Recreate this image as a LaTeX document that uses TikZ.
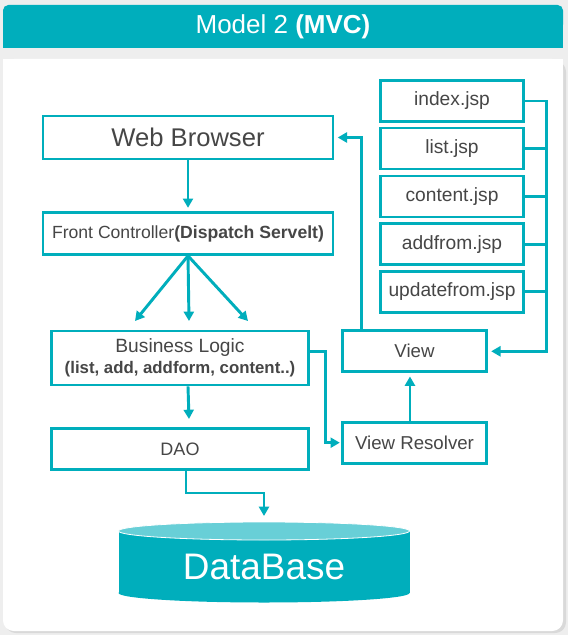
\documentclass[tikz,border=0pt]{standalone}
\usepackage{fontspec}
\setmainfont{Liberation Sans}
\usetikzlibrary{arrows.meta}
\definecolor{mvcteal}{RGB}{0,174,188}
\definecolor{mvclight}{RGB}{104,207,215}
\definecolor{mvctext}{RGB}{70,70,70}
\definecolor{mvcback}{RGB}{238,238,238}
\begin{document}
\begin{tikzpicture}[x=0.75pt,y=0.75pt,yscale=-1,xscale=1,
    box/.style={draw=mvcteal, line width=2pt, fill=white, text=mvctext, inner sep=0pt, align=center},
    widebox/.style={box, minimum width=217.5pt},
    logicbox/.style={box, minimum width=192.75pt},
    jspbox/.style={box, minimum width=107.25pt, minimum height=30.75pt, font=\fontsize{14.4}{17}\selectfont},
    viewbox/.style={box, minimum width=108pt, minimum height=30.75pt, font=\fontsize{14}{17}\selectfont},
    link/.style={draw=mvcteal, line width=2.2pt},
    arr/.style={link, -{Triangle[length=7pt,width=7.5pt]}, shorten >=2.5pt}]
        \useasboundingbox (0,0) rectangle (568,635);
        %Background
        \fill [mvcback] (0,0) rectangle (568,635);
        %Header bar
        \fill [mvcteal, rounded corners=4pt] (3,5) rectangle (563,30);
        \fill [mvcteal] (3,20) rectangle (563,48);
        %Panel with shadow
        \fill [gray!30, rounded corners=8pt] (5,61) rectangle (566,633);
        \fill [white, rounded corners=8pt] (3,59) rectangle (563,631);
        \fill [white] (3,59) rectangle (563,80);

        % Title
        \node (title) at (283,27) [text=white, font=\fontsize{19.5}{23}\selectfont] {Model 2 \textbf{(MVC)}};

        % Left column
        \node (wb) at (188,137.5) [widebox, minimum height=32.25pt, font=\fontsize{19.2}{23}\selectfont] {Web Browser};
        \node (fc) at (188,233.5) [widebox, minimum height=31.5pt, font=\fontsize{13.2}{16}\selectfont] {Front Controller\textbf{(Dispatch Servelt)}};
        \node (bl) at (180,358) [logicbox, minimum height=40.5pt, font=\fontsize{14.4}{17}\selectfont] {Business Logic\\[-1pt]{\fontsize{12.6}{15}\selectfont\textbf{(list, add, addform, content..)}}};
        \node (dao) at (180,449) [logicbox, minimum height=30.75pt, font=\fontsize{13.5}{16}\selectfont] {DAO};

        % JSP pages
        \node (j1) at (452,101) [jspbox] {index.jsp};
        \node (j2) at (452,148.6) [jspbox] {list.jsp};
        \node (j3) at (452,196.4) [jspbox] {content.jsp};
        \node (j4) at (452,244.3) [jspbox] {addfrom.jsp};
        \node (j5) at (452,291.7) [jspbox] {updatefrom.jsp};

        % View side
        \node (view) at (414.5,351.3) [viewbox] {View};
        \node (vr) at (414.5,442.7) [viewbox] {View Resolver};

        % DataBase cylinder
        \fill [mvcteal] (118.5,531) rectangle (409.5,593);
        \fill [mvcteal] (264,593) ellipse [x radius=145.5, y radius=9.5];
        \filldraw [fill=mvclight, draw=white, line width=0.6pt] (264,531) ellipse [x radius=145.5, y radius=9];
        \node (db) at (264,567) [text=white, font=\fontsize{27.7}{32}\selectfont] {DataBase};
        \coordinate (dbtop) at (264,516);

        % Connectors
        \draw [arr] (wb.south) -- (fc.north);
        \coordinate (fan1) at (135,321);
        \coordinate (fan2) at (189,321);
        \coordinate (fan3) at (248,321);
        \foreach \t in {fan1,fan2,fan3}
            \draw [arr, shorten >=0pt] (fc.south) -- (\t);
        \draw [arr, shorten >=0pt] (bl.south -| fc.south) -- (189,419);
        \draw [arr, shorten >=0pt] ([xshift=4.5pt]dao.south) |- (264,493) -- (dbtop);
        \draw [arr, shorten >=1pt] (bl.east |- view.west) -- ++(16,0) |- (vr.west);
        \draw [arr] ([xshift=-3.4pt]vr.north) -- ([xshift=-3.4pt]view.south);
        \draw [arr] ([xshift=15pt]view.north west) |- (wb.east);

        % JSP bus
        \coordinate (bus) at (546.7,0);
        \draw [arr] (j1.east) -| (bus |- view.east) -- (view.east);
        \foreach \j in {j2,j3,j4,j5}
            \draw [link] (\j.east) -- (\j.east -| bus);

\end{tikzpicture}
\end{document}
